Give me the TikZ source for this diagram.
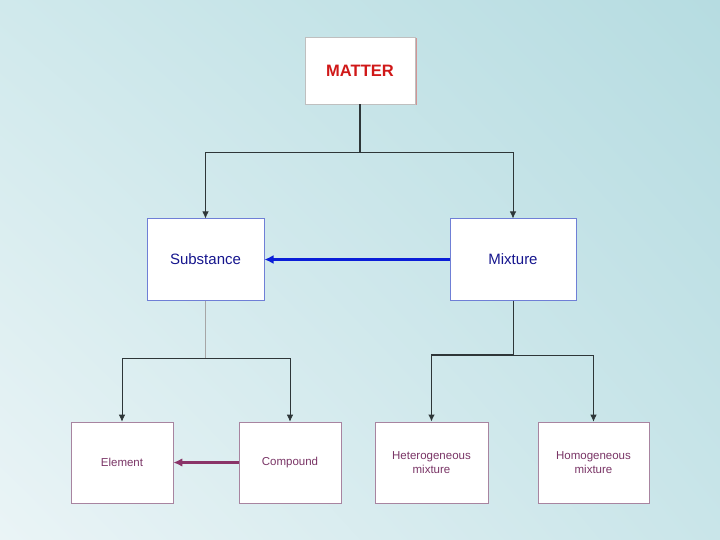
\documentclass[tikz,border=0pt]{standalone}
\usepackage{fontspec}
\setmainfont{Liberation Sans}
\usetikzlibrary{arrows.meta,shadings}
\definecolor{bgA}{HTML}{EAF4F6}
\definecolor{bgB}{HTML}{B6DCE1}
\definecolor{bgC}{HTML}{D0E9EC}
\definecolor{bgD}{HTML}{C9E5E9}
\definecolor{mattred}{HTML}{D01818}
\definecolor{midblue}{HTML}{16168E}
\definecolor{midborder}{HTML}{6F7FD6}
\definecolor{lowtext}{HTML}{7A3566}
\definecolor{lowborder}{HTML}{A884A0}
\definecolor{arrowblue}{HTML}{0A1ED8}
\definecolor{arrowpurple}{HTML}{8A3468}
\definecolor{linegray}{HTML}{2E3638}
\tikzset{
  topbox/.style={draw=gray!50, fill=white, minimum width=110pt, minimum height=67pt, inner sep=0pt,
    font=\fontsize{16.5}{19}\selectfont\bfseries, text=mattred},
  midbox/.style={draw=midborder, line width=1pt, fill=white, minimum height=81pt, inner sep=0pt,
    font=\fontsize{15}{17}\selectfont, text=midblue},
  lowbox/.style={draw=lowborder, line width=0.6pt, fill=white, minimum height=81pt, inner sep=0pt,
    font=\fontsize{11.5}{14}\selectfont, text=lowtext, align=center},
  conn/.style={draw=linegray, line width=0.8pt, -{Latex[length=7pt,width=6.5pt]}},
}
\begin{document}
\begin{tikzpicture}[x=1pt,y=-1pt]
\useasboundingbox (0,0) rectangle (720,540);
\shade[lower left=bgA, upper right=bgB, upper left=bgC, lower right=bgD] (0,540) rectangle (720,0);
% shadow of top box
\fill[red!40!gray!60] (306.5,38.5) rectangle (416.5,105.5);
\node[topbox] (matter) at (360,70.5) {MATTER};
\node[midbox, minimum width=117pt] (sub) at (205.5,259.5) {Substance};
\node[midbox, minimum width=126pt] (mix) at (513,259.5) {Mixture};
\node[lowbox, minimum width=102pt] (elem) at (122,462.5) {Element};
\node[lowbox, minimum width=102pt] (comp) at (290,462.5) {Compound};
\node[lowbox, minimum width=113pt] (het) at (431.5,462.5) {Heterogeneous\\mixture};
\node[lowbox, minimum width=111pt] (hom) at (593.5,462.5) {Homogeneous\\mixture};
\coordinate (j1) at (360,152);
\coordinate (j2) at (205.5,358);
\coordinate (j3) at (513,355);
\draw[linegray, line width=1.2pt] (matter.south) -- (j1);
\draw[conn] (j1) -| (sub.north);
\draw[conn] (j1) -| (mix.north);
\draw[gray!70, line width=1pt] (sub.south) -- (j2);
\draw[conn] (j2) -| (elem.north);
\draw[conn] (j2) -| (comp.north);
\draw[linegray, line width=1pt] (mix.south) -- (j3);
\draw[conn, line width=1.4pt] (j3) -| (het.north);
\draw[conn] (j3) -| (hom.north);
\draw[arrowblue, line width=2.6pt, -{Latex[length=9pt,width=9pt]}] (mix.west) -- (sub.east);
\draw[arrowpurple, line width=2.4pt, -{Latex[length=9pt,width=8.5pt]}] (comp.west) -- (elem.east);
\end{tikzpicture}
\end{document}
